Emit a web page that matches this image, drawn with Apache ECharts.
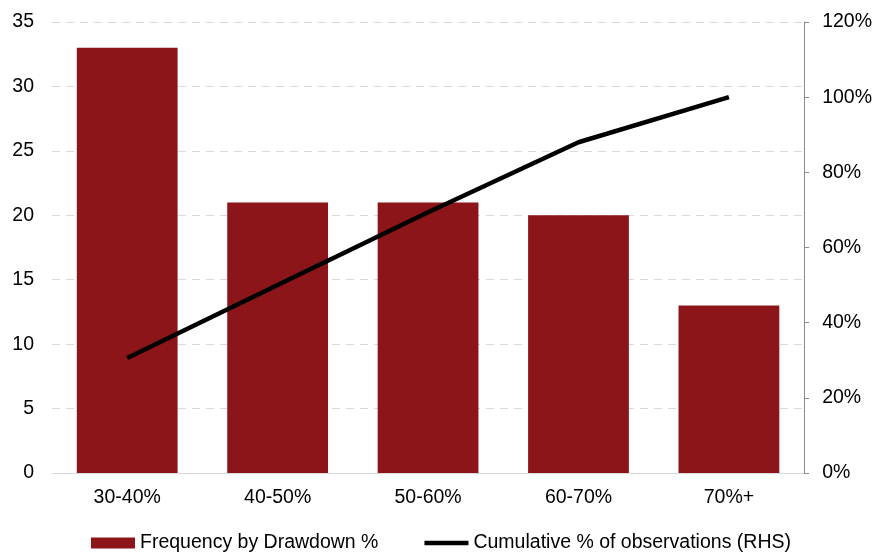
<!DOCTYPE html>
<html>
<head>
<meta charset="utf-8">
<script src="https://cdn.jsdelivr.net/npm/echarts@6/dist/echarts.min.js"></script>
<style>
  html, body { margin: 0; padding: 0; background: #fff; }
  #main { width: 875px; height: 552px; }
</style>
</head>
<body>
<div id="main"></div>
<script>
// 数据
var categories = ['30-40%', '40-50%', '50-60%', '60-70%', '70%+'];
var frequency = [33, 21, 21, 20, 13];
var cumulative = [30.6, 50.0, 69.4, 88.0, 100];   // %

var chart = echarts.init(document.getElementById('main'));

var font = 'Liberation Sans, Arial, sans-serif';

var option = {
    backgroundColor: '#ffffff',
    animation: false,
    textStyle: { fontFamily: font },
    grid: {
        left: 52,
        right: 67,
        top: 22,
        bottom: 79
    },
    legend: {
        left: 86,
        top: 528,
        itemWidth: 44,
        itemHeight: 11,
        itemGap: 46,
        textStyle: { fontSize: 19.5, color: '#000', fontFamily: font },
        data: [
            { name: 'Frequency by Drawdown %', icon: 'rect' },
            { name: 'Cumulative % of observations (RHS)', icon: 'path://M0,0h44v4.5h-44z' }
        ]
    },
    xAxis: {
        type: 'category',
        data: categories,
        axisLine: { show: true, lineStyle: { color: '#d9d9d9', width: 1 } },
        axisTick: { show: false },
        axisLabel: { color: '#000', fontSize: 19.5, margin: 15, fontFamily: font }
    },
    yAxis: [{
        type: 'value',
        min: 0,
        max: 35,
        interval: 5,
        axisLine: { show: false },
        axisTick: { show: false },
        axisLabel: { color: '#000', fontSize: 19.5, margin: 18, fontFamily: font },
        splitLine: {
            show: true,
            lineStyle: { color: '#d9d9d9', type: [8, 6], width: 1 }
        }
    }, {
        type: 'value',
        min: 0,
        max: 120,
        interval: 20,
        position: 'right',
        axisLine: { show: true, lineStyle: { color: '#8c8c8c', width: 1 } },
        axisTick: { show: true, inside: false, length: 5, lineStyle: { color: '#8c8c8c' } },
        axisLabel: {
            color: '#000', fontSize: 19.5, margin: 18, fontFamily: font,
            formatter: '{value}%'
        },
        splitLine: { show: false }
    }],
    series: [{
        name: 'Frequency by Drawdown %',
        type: 'bar',
        data: frequency,
        barCategoryGap: '33%',
        itemStyle: { color: '#8b1518' }
    }, {
        name: 'Cumulative % of observations (RHS)',
        type: 'line',
        yAxisIndex: 1,
        data: cumulative,
        symbol: 'none',
        lineStyle: { color: '#000', width: 4.5 },
        itemStyle: { color: '#000' }
    }]
};

chart.setOption(option);
</script>
</body>
</html>
